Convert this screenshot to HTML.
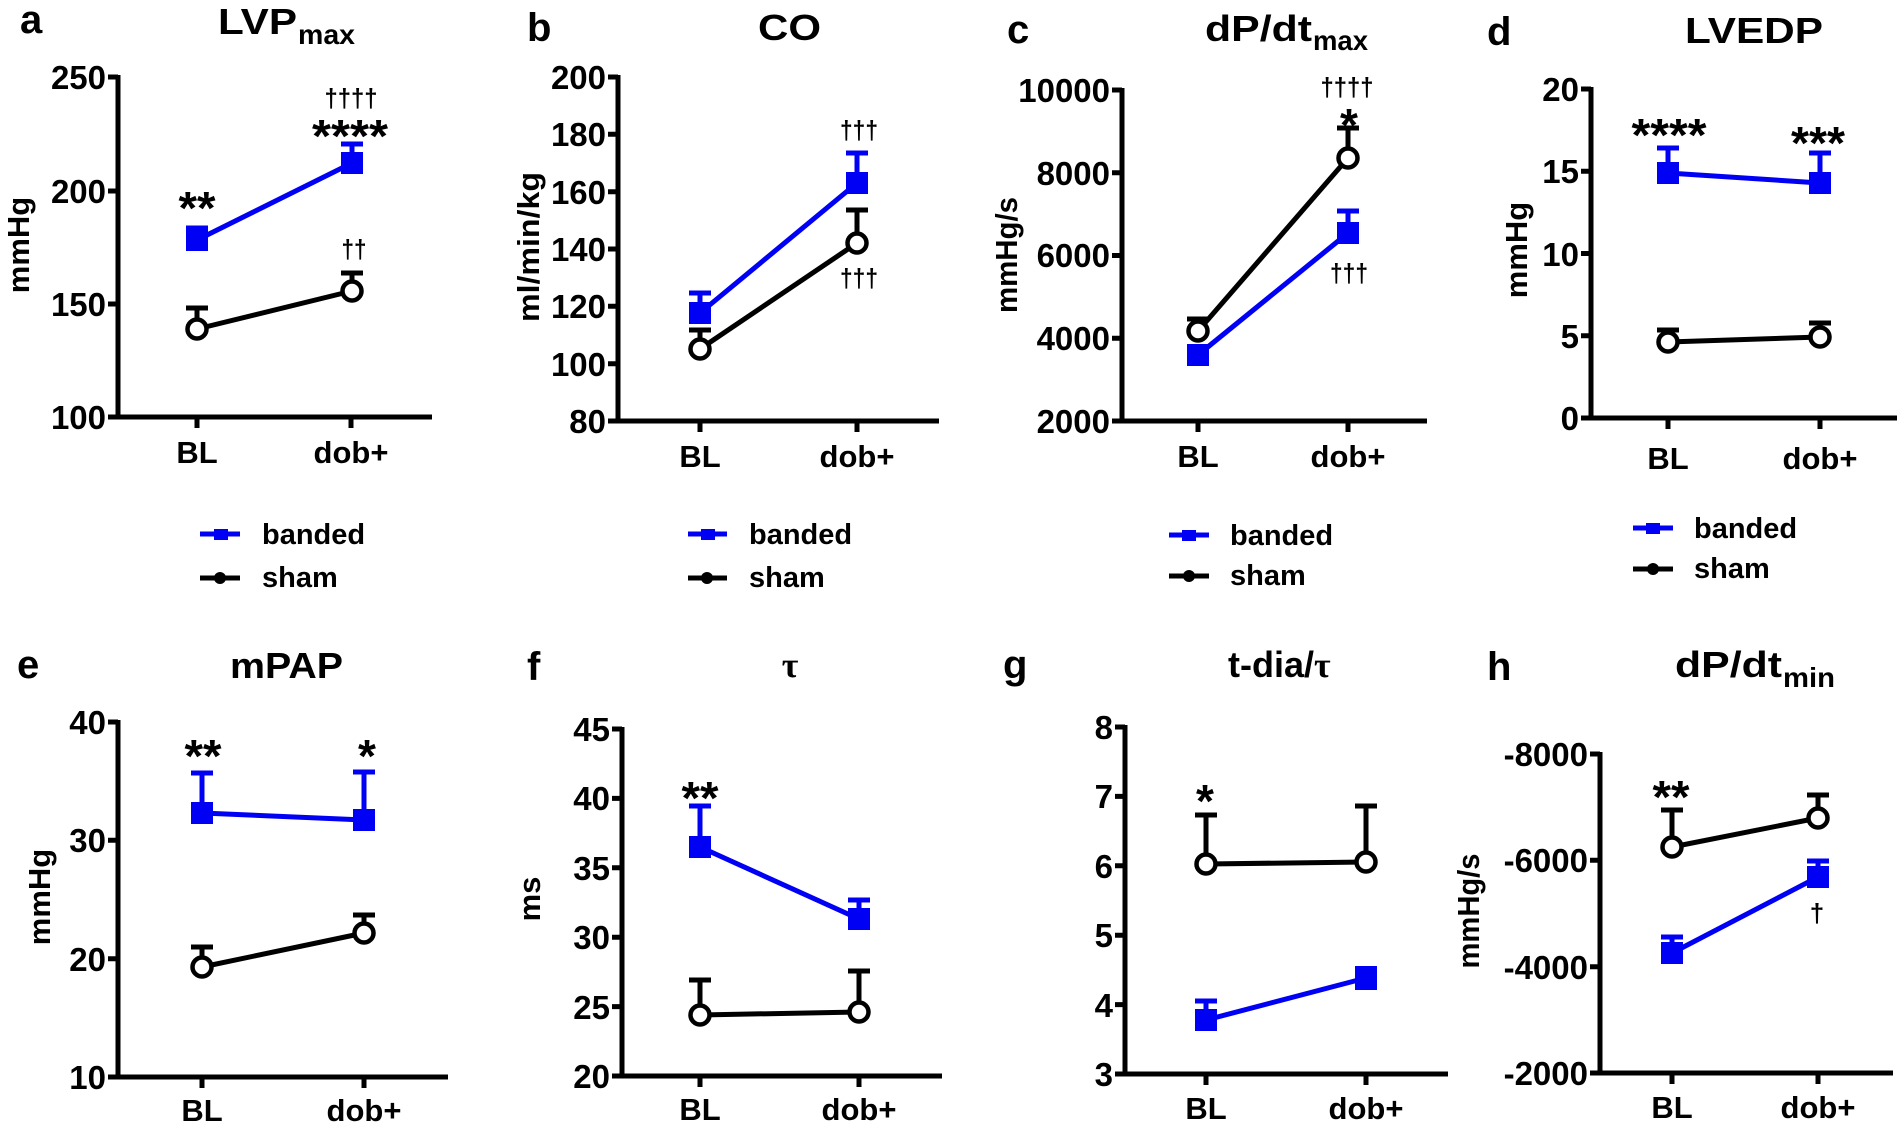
<!DOCTYPE html>
<html><head><meta charset="utf-8"><style>
html,body{margin:0;padding:0;background:#fff;}
svg{display:block;}
text{font-family:"Liberation Sans",Arial,sans-serif;font-weight:bold;fill:#000;}
.tk{font-size:33px;text-anchor:end;}
.xl{font-size:31px;text-anchor:middle;}
.yl{font-size:31px;text-anchor:middle;}
.ttl{font-size:36px;}
.sub{font-size:28px;}
.let{font-size:40px;}
.ast{font-size:46px;text-anchor:middle;}
.dag{font-size:26px;text-anchor:middle;}
.lg{font-size:29px;}
.ax{stroke:#000;stroke-width:5;fill:none;}
.bl{stroke:#0000f5;stroke-width:5;fill:none;}
.bk{stroke:#000;stroke-width:5;fill:none;}
.sq{fill:#0000f5;}
.ci{fill:#fff;stroke:#000;stroke-width:4.5;}
.serif{font-family:"Liberation Serif","Times New Roman",serif;}
</style></head><body>
<svg width="1900" height="1125" viewBox="0 0 1900 1125" xmlns="http://www.w3.org/2000/svg">

<!-- ============ Panel a ============ -->
<text class="let" x="20" y="33">a</text>
<text class="ttl" x="218" y="34" textLength="79" lengthAdjust="spacingAndGlyphs">LVP</text>
<text class="sub" x="298" y="44" textLength="57" lengthAdjust="spacingAndGlyphs">max</text>
<text class="yl" transform="translate(29,245) rotate(-90)">mmHg</text>
<path class="ax" d="M118 75 V419 M108 417 H432 M108 77 H118 M108 191 H118 M108 304 H118 M197 417 V428 M351 417 V428"/>
<text class="tk" x="106" y="89">250</text>
<text class="tk" x="106" y="203">200</text>
<text class="tk" x="106" y="316">150</text>
<text class="tk" x="106" y="429">100</text>
<text class="xl" x="197" y="463">BL</text>
<text class="xl" x="351" y="463">dob+</text>
<path class="bl" d="M197 240 V228 M186 228 H208 M352 163 V144 M341 144 H363"/>
<path class="bk" d="M197 329 V308 M186 308 H208 M352 291 V273 M341 273 H363"/>
<path class="bl" d="M197 240 L352 163"/>
<path class="bk" d="M197 329 L352 291"/>
<rect class="sq" x="186" y="229" width="22" height="22"/>
<rect class="sq" x="341" y="152" width="22" height="22"/>
<circle class="ci" cx="197" cy="329" r="9.5"/>
<circle class="ci" cx="352" cy="291" r="9.5"/>
<text class="ast" x="197" y="224" textLength="37" lengthAdjust="spacingAndGlyphs">**</text>
<text class="ast" x="350" y="152" textLength="76" lengthAdjust="spacingAndGlyphs">****</text>
<text class="dag" x="351" y="107" textLength="53" lengthAdjust="spacingAndGlyphs">††††</text>
<text class="dag" x="354" y="258" textLength="25" lengthAdjust="spacingAndGlyphs">††</text>
<!-- legend a -->
<path class="bl" d="M200 534 H240"/><rect class="sq" x="214" y="529" width="14" height="11"/>
<text class="lg" x="262" y="544">banded</text>
<path class="bk" d="M200 578 H240"/><circle cx="220" cy="578" r="6" fill="#000"/>
<text class="lg" x="262" y="587">sham</text>

<!-- ============ Panel b ============ -->
<text class="let" x="527" y="41">b</text>
<text class="ttl" x="758" y="40" textLength="63" lengthAdjust="spacingAndGlyphs">CO</text>
<text class="yl" transform="translate(539,247) rotate(-90)" textLength="150" lengthAdjust="spacingAndGlyphs">ml/min/kg</text>
<path class="ax" d="M618 75 V423 M608 421 H939 M608 77 H618 M608 134.3 H618 M608 191.7 H618 M608 249 H618 M608 306.3 H618 M608 363.7 H618 M700 421 V432 M857 421 V432"/>
<text class="tk" x="606" y="89">200</text>
<text class="tk" x="606" y="146">180</text>
<text class="tk" x="606" y="204">160</text>
<text class="tk" x="606" y="261">140</text>
<text class="tk" x="606" y="318">120</text>
<text class="tk" x="606" y="376">100</text>
<text class="tk" x="606" y="433">80</text>
<text class="xl" x="700" y="467">BL</text>
<text class="xl" x="857" y="467">dob+</text>
<path class="bl" d="M700 313 V293 M689 293 H711 M857 183 V153 M846 153 H868"/>
<path class="bk" d="M700 349 V330 M689 330 H711 M857 243 V210 M846 210 H868"/>
<path class="bk" d="M700 349 L857 243"/>
<path class="bl" d="M700 313 L857 183"/>
<circle class="ci" cx="700" cy="349" r="9.5"/>
<circle class="ci" cx="857" cy="243" r="9.5"/>
<rect class="sq" x="689" y="302" width="22" height="22"/>
<rect class="sq" x="846" y="172" width="22" height="22"/>
<text class="dag" x="859" y="139" textLength="38" lengthAdjust="spacingAndGlyphs">†††</text>
<text class="dag" x="859" y="287" textLength="38" lengthAdjust="spacingAndGlyphs">†††</text>
<!-- legend b -->
<path class="bl" d="M688 534 H727"/><rect class="sq" x="701" y="529" width="14" height="11"/>
<text class="lg" x="749" y="544">banded</text>
<path class="bk" d="M688 578 H727"/><circle cx="707" cy="578" r="6" fill="#000"/>
<text class="lg" x="749" y="587">sham</text>

<!-- ============ Panel c ============ -->
<text class="let" x="1007" y="43">c</text>
<text class="ttl" x="1205" y="41" textLength="107" lengthAdjust="spacingAndGlyphs">dP/dt</text>
<text class="sub" x="1313" y="50" textLength="55" lengthAdjust="spacingAndGlyphs">max</text>
<text class="yl" transform="translate(1017,255) rotate(-90)" textLength="116" lengthAdjust="spacingAndGlyphs">mmHg/s</text>
<path class="ax" d="M1122 88 V423 M1112 421 H1427 M1112 90 H1122 M1112 172.75 H1122 M1112 255.5 H1122 M1112 338.25 H1122 M1198 421 V432 M1348 421 V432"/>
<text class="tk" x="1110" y="102">10000</text>
<text class="tk" x="1110" y="185">8000</text>
<text class="tk" x="1110" y="267">6000</text>
<text class="tk" x="1110" y="350">4000</text>
<text class="tk" x="1110" y="433">2000</text>
<text class="xl" x="1198" y="467">BL</text>
<text class="xl" x="1348" y="467">dob+</text>
<path class="bk" d="M1198 331 V319 M1187 319 H1209 M1348 158 V128 M1337 128 H1359"/>
<path class="bl" d="M1198 355 V347 M1187 347 H1209 M1348 233 V211 M1337 211 H1359"/>
<path class="bk" d="M1198 331 L1348 158"/>
<path class="bl" d="M1198 355 L1348 233"/>
<circle class="ci" cx="1198" cy="331" r="9.5"/>
<circle class="ci" cx="1348" cy="158" r="9.5"/>
<rect class="sq" x="1187" y="344" width="22" height="22"/>
<rect class="sq" x="1337" y="222" width="22" height="22"/>
<text class="dag" x="1347" y="96" textLength="53" lengthAdjust="spacingAndGlyphs">††††</text>
<text class="ast" x="1349" y="141">*</text>
<text class="dag" x="1349" y="282" textLength="38" lengthAdjust="spacingAndGlyphs">†††</text>
<!-- legend c -->
<path class="bl" d="M1169 535 H1209"/><rect class="sq" x="1182" y="530" width="14" height="11"/>
<text class="lg" x="1230" y="545">banded</text>
<path class="bk" d="M1169 576 H1209"/><circle cx="1189" cy="576" r="6" fill="#000"/>
<text class="lg" x="1230" y="585">sham</text>

<!-- ============ Panel d ============ -->
<text class="let" x="1487" y="45">d</text>
<text class="ttl" x="1685" y="43" textLength="138" lengthAdjust="spacingAndGlyphs">LVEDP</text>
<text class="yl" transform="translate(1527,250) rotate(-90)">mmHg</text>
<path class="ax" d="M1591 87 V420 M1581 418 H1897 M1581 89 H1591 M1581 171.25 H1591 M1581 253.5 H1591 M1581 335.75 H1591 M1668 418 V429 M1820 418 V429"/>
<text class="tk" x="1579" y="101">20</text>
<text class="tk" x="1579" y="183">15</text>
<text class="tk" x="1579" y="266">10</text>
<text class="tk" x="1579" y="348">5</text>
<text class="tk" x="1579" y="430">0</text>
<text class="xl" x="1668" y="469">BL</text>
<text class="xl" x="1820" y="469">dob+</text>
<path class="bl" d="M1668 173 V148 M1657 148 H1679 M1820 183 V153 M1809 153 H1831"/>
<path class="bk" d="M1668 342 V330 M1657 330 H1679 M1820 337 V323 M1809 323 H1831"/>
<path class="bl" d="M1668 173 L1820 183"/>
<path class="bk" d="M1668 342 L1820 337"/>
<rect class="sq" x="1657" y="162" width="22" height="22"/>
<rect class="sq" x="1809" y="172" width="22" height="22"/>
<circle class="ci" cx="1668" cy="342" r="9.5"/>
<circle class="ci" cx="1820" cy="337" r="9.5"/>
<text class="ast" x="1669" y="151" textLength="75" lengthAdjust="spacingAndGlyphs">****</text>
<text class="ast" x="1818" y="159" textLength="54" lengthAdjust="spacingAndGlyphs">***</text>
<!-- legend d -->
<path class="bl" d="M1633 528 H1673"/><rect class="sq" x="1646" y="523" width="14" height="11"/>
<text class="lg" x="1694" y="538">banded</text>
<path class="bk" d="M1633 569 H1673"/><circle cx="1653" cy="569" r="6" fill="#000"/>
<text class="lg" x="1694" y="578">sham</text>

<!-- ============ Panel e ============ -->
<text class="let" x="17" y="678">e</text>
<text class="ttl" x="230" y="678" textLength="113" lengthAdjust="spacingAndGlyphs">mPAP</text>
<text class="yl" transform="translate(50,897) rotate(-90)">mmHg</text>
<path class="ax" d="M118 720 V1079 M108 1077 H448 M108 722 H118 M108 840.3 H118 M108 958.7 H118 M202 1077 V1088 M364 1077 V1088"/>
<text class="tk" x="106" y="734">40</text>
<text class="tk" x="106" y="852">30</text>
<text class="tk" x="106" y="971">20</text>
<text class="tk" x="106" y="1089">10</text>
<text class="xl" x="202" y="1121">BL</text>
<text class="xl" x="364" y="1121">dob+</text>
<path class="bl" d="M202 813 V773 M191 773 H213 M364 820 V772 M353 772 H375"/>
<path class="bk" d="M202 967 V947 M191 947 H213 M364 933 V915 M353 915 H375"/>
<path class="bl" d="M202 813 L364 820"/>
<path class="bk" d="M202 967 L364 933"/>
<rect class="sq" x="191" y="802" width="22" height="22"/>
<rect class="sq" x="353" y="809" width="22" height="22"/>
<circle class="ci" cx="202" cy="967" r="9.5"/>
<circle class="ci" cx="364" cy="933" r="9.5"/>
<text class="ast" x="203" y="772" textLength="37" lengthAdjust="spacingAndGlyphs">**</text>
<text class="ast" x="367" y="772">*</text>

<!-- ============ Panel f ============ -->
<text class="let" x="527" y="680">f</text>
<text class="ttl serif" x="790" y="677" text-anchor="middle">τ</text>
<text class="yl" transform="translate(540,899) rotate(-90)">ms</text>
<path class="ax" d="M622 727 V1078 M612 1076 H942 M612 729 H622 M612 798.4 H622 M612 867.8 H622 M612 937.2 H622 M612 1006.6 H622 M700 1076 V1087 M859 1076 V1087"/>
<text class="tk" x="610" y="741">45</text>
<text class="tk" x="610" y="810">40</text>
<text class="tk" x="610" y="880">35</text>
<text class="tk" x="610" y="949">30</text>
<text class="tk" x="610" y="1019">25</text>
<text class="tk" x="610" y="1088">20</text>
<text class="xl" x="700" y="1120">BL</text>
<text class="xl" x="859" y="1120">dob+</text>
<path class="bl" d="M700 847 V806 M689 806 H711 M859 919 V900 M848 900 H870"/>
<path class="bk" d="M700 1015 V980 M689 980 H711 M859 1012 V971 M848 971 H870"/>
<path class="bl" d="M700 847 L859 919"/>
<path class="bk" d="M700 1015 L859 1012"/>
<rect class="sq" x="689" y="836" width="22" height="22"/>
<rect class="sq" x="848" y="908" width="22" height="22"/>
<circle class="ci" cx="700" cy="1015" r="9.5"/>
<circle class="ci" cx="859" cy="1012" r="9.5"/>
<text class="ast" x="700" y="814" textLength="37" lengthAdjust="spacingAndGlyphs">**</text>

<!-- ============ Panel g ============ -->
<text class="let" x="1003" y="678">g</text>
<text class="ttl" x="1228" y="677">t-dia/<tspan class="serif">τ</tspan></text>
<path class="ax" d="M1125 725 V1076 M1115 1074 H1448 M1115 727 H1125 M1115 796.4 H1125 M1115 865.8 H1125 M1115 935.2 H1125 M1115 1004.6 H1125 M1206 1074 V1085 M1366 1074 V1085"/>
<text class="tk" x="1113" y="739">8</text>
<text class="tk" x="1113" y="808">7</text>
<text class="tk" x="1113" y="878">6</text>
<text class="tk" x="1113" y="947">5</text>
<text class="tk" x="1113" y="1017">4</text>
<text class="tk" x="1113" y="1086">3</text>
<text class="xl" x="1206" y="1119">BL</text>
<text class="xl" x="1366" y="1119">dob+</text>
<path class="bk" d="M1206 864 V815 M1195 815 H1217 M1366 862 V806 M1355 806 H1377"/>
<path class="bl" d="M1206 1020 V1001 M1195 1001 H1217"/>
<path class="bk" d="M1206 864 L1366 862"/>
<path class="bl" d="M1206 1020 L1366 978"/>
<circle class="ci" cx="1206" cy="864" r="9.5"/>
<circle class="ci" cx="1366" cy="862" r="9.5"/>
<rect class="sq" x="1195" y="1009" width="22" height="22"/>
<rect class="sq" x="1355" y="966" width="22" height="24"/>
<text class="ast" x="1205" y="817">*</text>

<!-- ============ Panel h ============ -->
<text class="let" x="1487" y="680">h</text>
<text class="ttl" x="1675" y="677" textLength="107" lengthAdjust="spacingAndGlyphs">dP/dt</text>
<text class="sub" x="1783" y="687" textLength="52" lengthAdjust="spacingAndGlyphs">min</text>
<text class="yl" transform="translate(1479,911) rotate(-90)" textLength="115" lengthAdjust="spacingAndGlyphs">mmHg/s</text>
<path class="ax" d="M1600 752 V1075 M1590 1073 H1893 M1590 754 H1600 M1590 860.3 H1600 M1590 966.7 H1600 M1672 1073 V1084 M1818 1073 V1084"/>
<text class="tk" x="1588" y="766">-8000</text>
<text class="tk" x="1588" y="872">-6000</text>
<text class="tk" x="1588" y="979">-4000</text>
<text class="tk" x="1588" y="1085">-2000</text>
<text class="xl" x="1672" y="1118">BL</text>
<text class="xl" x="1818" y="1118">dob+</text>
<path class="bk" d="M1672 847 V810 M1661 810 H1683 M1818 818 V795 M1807 795 H1829"/>
<path class="bl" d="M1672 953 V937 M1661 937 H1683 M1818 877 V861 M1807 861 H1829"/>
<path class="bk" d="M1672 847 L1818 818"/>
<path class="bl" d="M1672 953 L1818 877"/>
<circle class="ci" cx="1672" cy="847" r="9.5"/>
<circle class="ci" cx="1818" cy="818" r="9.5"/>
<rect class="sq" x="1661" y="942" width="22" height="22"/>
<rect class="sq" x="1807" y="866" width="22" height="22"/>
<text class="ast" x="1671" y="813" textLength="37" lengthAdjust="spacingAndGlyphs">**</text>
<text class="dag" x="1817" y="922">†</text>

</svg>
</body></html>
